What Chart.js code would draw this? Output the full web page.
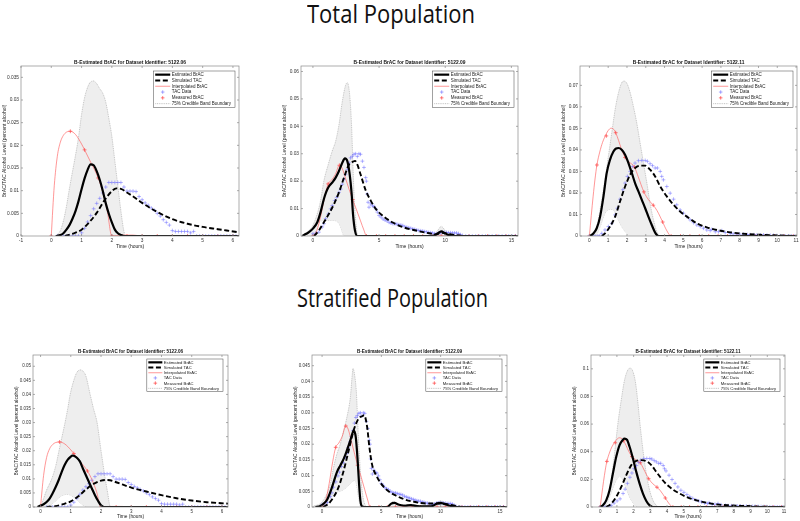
<!DOCTYPE html>
<html><head><meta charset="utf-8">
<script src="https://cdn.jsdelivr.net/npm/chart.js@4.4.1/dist/chart.umd.min.js"></script>
<style>
html,body{margin:0;padding:0;background:#fff;}
body{width:800px;height:521px;position:relative;overflow:hidden;}
.hd{position:absolute;white-space:nowrap;font-family:"Open Sans",sans-serif;font-size:26px;line-height:1;color:#111;transform-origin:0 0;}
canvas{position:absolute;}
</style></head><body>
<div class="hd" id="hd1">Total Population</div>
<div class="hd" id="hd2">Stratified Population</div>
<canvas id="c1"></canvas><canvas id="c2"></canvas><canvas id="c3"></canvas>
<canvas id="c4"></canvas><canvas id="c5"></canvas><canvas id="c6"></canvas>
<script>
// ---------- tick labels ----------
const xTicks06a = [-1,0,1,2,3,4,5,6];
const xTicks06b = [0,1,2,3,4,5,6];
const xTicks09 = [0,5,10,15];
const xTicks11 = [0,1,2,3,4,5,6,7,8,9,10,11];
const yTicks1 = [0,0.005,0.01,0.015,0.02,0.025,0.03,0.035];
const yTicks2 = [0,0.01,0.02,0.03,0.04,0.05,0.06];
const yTicks3 = [0,0.01,0.02,0.03,0.04,0.05,0.06,0.07];
const yTicks4 = [0,0.005,0.01,0.015,0.02,0.025,0.03,0.035,0.04,0.045,0.05];
const yTicks5 = [0,0.005,0.01,0.015,0.02,0.025,0.03,0.035,0.04,0.045];
const yTicks6 = [0,0.02,0.04,0.06,0.08,0.1];
const legendLabels = ['Estimated BrAC','Simulated TAC','Interpolated BrAC','TAC Data','Measured BrAC','75% Credible Band Boundary'];

// ---------- dataset 5122.06 (shared data) ----------
const tac06 = [[0.2,0],[0.3,0],[0.4,0],[0.5,0],[0.6,0],[0.7,0],[0.8,0],[0.9,0],[1.0,0.0007],[1.1,0.0017],[1.2,0.0031],[1.3,0.0045],[1.4,0.006],[1.5,0.0072],[1.6,0.0083],[1.7,0.0095],[1.8,0.0108],[1.9,0.0118],[2.0,0.0118],[2.1,0.0118],[2.2,0.0118],[2.3,0.0118],[2.4,0.0108],[2.5,0.0099],[2.6,0.0099],[2.7,0.0099],[2.8,0.0098],[2.9,0.0087],[3.0,0.008],[3.1,0.0073],[3.2,0.0068],[3.3,0.0062],[3.4,0.0057],[3.5,0.005],[3.6,0.0044],[3.7,0.0036],[3.8,0.003],[3.9,0.0024],[4.0,0.0012],[4.1,0.001],[4.2,0.001],[4.3,0.001],[4.4,0.001],[4.5,0.001],[4.6,0.0007],[4.7,0.001],[4.8,0],[4.9,0],[5.0,0],[5.1,0],[5.2,0],[5.3,0],[5.4,0],[5.5,0],[5.6,0],[5.7,0],[5.8,0],[5.9,0],[6.0,0],[6.1,0]];
const meas06 = [[0,0],[0.63,0.0231],[1.1,0.019],[1.55,0.0128],[2.0,0],[2.5,0],[3.0,0],[3.5,0],[4.0,0],[4.5,0],[5.0,0],[5.5,0],[6.0,0]];
const interp06 = [[0,0],[0.05,0.006],[0.1,0.0112],[0.2,0.0176],[0.3,0.0207],[0.4,0.0222],[0.5,0.0229],[0.63,0.0231],[0.8,0.0224],[1.0,0.0203],[1.1,0.019],[1.3,0.0163],[1.55,0.0128],[1.7,0.0097],[1.85,0.0055],[2.0,0],[2.3,0.0002],[2.7,0.0002],[3.0,0],[6.2,0]];
// total population
const est06a = [[0.15,0],[0.3,0.0002],[0.4,0.0006],[0.5,0.0014],[0.6,0.0024],[0.7,0.0038],[0.8,0.0055],[0.9,0.0077],[1.0,0.0103],[1.1,0.0127],[1.2,0.0146],[1.3,0.0158],[1.4,0.0156],[1.5,0.0143],[1.6,0.0124],[1.7,0.01],[1.8,0.0072],[1.9,0.0049],[2.0,0.003],[2.1,0.0014],[2.2,0.0006],[2.3,0.0002],[2.4,0],[6.2,0]];
const sim06a = [[0.45,0],[0.75,0.0006],[1.0,0.0014],[1.25,0.003],[1.5,0.0051],[1.75,0.0078],[2.0,0.0099],[2.15,0.0105],[2.3,0.0104],[2.5,0.0096],[2.75,0.0085],[3.0,0.0073],[3.5,0.0053],[4.0,0.0037],[4.5,0.0027],[5.0,0.002],[5.5,0.0015],[6.2,0.0008]];
const upper06a = [[0.15,0],[0.3,0.0012],[0.4,0.0033],[0.5,0.0065],[0.6,0.0105],[0.7,0.0142],[0.8,0.0178],[0.9,0.0218],[1.0,0.0268],[1.1,0.0305],[1.2,0.0328],[1.3,0.034],[1.4,0.0342],[1.5,0.0336],[1.6,0.0325],[1.7,0.0315],[1.8,0.0295],[1.9,0.026],[2.0,0.022],[2.1,0.0165],[2.2,0.011],[2.3,0.0055],[2.4,0.001],[2.45,0],[6.2,0]];
const lower06a = [[0.15,0],[2.45,0],[6.2,0]];
// stratified population
const est06b = [[-0.1,0],[0,0.0005],[0.1,0.001],[0.2,0.0018],[0.3,0.003],[0.4,0.0049],[0.5,0.0071],[0.6,0.0096],[0.7,0.0125],[0.8,0.015],[0.9,0.0168],[1.0,0.0179],[1.05,0.0183],[1.1,0.0182],[1.2,0.0175],[1.3,0.0162],[1.4,0.0137],[1.5,0.0113],[1.6,0.0089],[1.7,0.0065],[1.8,0.0042],[1.9,0.0022],[2.0,0.0006],[2.1,0],[6.2,0]];
const sim06b = [[0.2,0],[0.5,0.0003],[0.75,0.001],[1.0,0.002],[1.25,0.0038],[1.5,0.0062],[1.75,0.0082],[2.0,0.0094],[2.15,0.0096],[2.3,0.0095],[2.5,0.0088],[3.0,0.0069],[3.5,0.0055],[4.0,0.0042],[4.5,0.0031],[5.0,0.0023],[5.5,0.0017],[6.2,0.0012]];
const upper06b = [[0,0],[0.1,0.003],[0.2,0.006],[0.37,0.01],[0.5,0.0145],[0.61,0.02],[0.7,0.0245],[0.81,0.03],[0.9,0.035],[0.98,0.04],[1.1,0.045],[1.2,0.0478],[1.31,0.0487],[1.4,0.0483],[1.5,0.0465],[1.64,0.04],[1.75,0.035],[1.87,0.03],[2.0,0.02],[2.14,0.01],[2.22,0.005],[2.31,0],[6.2,0]];
const lower06b = [[0,0],[0.2,0],[0.3,0.0005],[0.4,0.0013],[0.5,0.0022],[0.6,0.0032],[0.7,0.004],[0.8,0.0044],[0.87,0.0045],[0.95,0.0044],[1.1,0.0035],[1.2,0.0026],[1.3,0.0016],[1.4,0.0007],[1.5,0.0002],[1.6,0],[6.2,0]];

// ---------- dataset 5122.09 (shared data) ----------
const tac09 = [[0,0.0008],[0.2,0.001],[0.45,0.0014],[0.7,0.0033],[0.83,0.0045],[0.96,0.0063],[1.16,0.008],[1.34,0.0099],[1.46,0.0111],[1.64,0.0129],[1.8,0.0141],[1.97,0.0159],[2.1,0.0171],[2.22,0.0189],[2.35,0.0207],[2.47,0.0225],[2.6,0.0243],[2.73,0.0267],[2.85,0.0285],[2.98,0.0291],[3.1,0.0298],[3.23,0.03],[3.36,0.029],[3.48,0.03],[3.6,0.0298],[3.74,0.0273],[3.86,0.025],[3.99,0.0213],[4.04,0.02],[4.1,0.0153],[4.17,0.0123],[4.24,0.0105],[4.37,0.0117],[4.5,0.011],[4.62,0.0108],[4.75,0.0099],[4.87,0.0087],[5.0,0.0075],[5.15,0.0069],[5.3,0.0062],[5.45,0.0058],[5.6,0.0055],[5.75,0.005],[5.9,0.0047],[6.05,0.0045],[6.2,0.0045],[6.35,0.0043],[6.5,0.0041],[6.65,0.004],[6.8,0.0038],[6.95,0.0034],[7.1,0.0032],[7.25,0.003],[7.4,0.0028],[7.55,0.0026],[7.7,0.0024],[7.85,0.0022],[8.0,0.002],[8.15,0.0019],[8.3,0.0018],[8.45,0.0016],[8.6,0.0015],[8.75,0.0013],[8.9,0.0012],[9.05,0.0011],[9.2,0.0009],[9.35,0.0008],[9.5,0.001],[9.65,0.0012],[9.8,0.0013],[9.95,0.0013],[10.1,0.0013],[10.25,0.0012],[10.4,0.0012],[10.55,0.0011],[10.7,0.0011],[10.85,0.0011],[11.0,0.0009],[11.15,0.0005],[11.3,0.0002],[11.55,0],[11.8,0],[12.05,0],[12.3,0],[12.55,0],[12.8,0],[13.05,0],[13.3,0],[13.55,0],[13.8,0],[14.05,0],[14.3,0],[14.55,0],[14.8,0],[15.05,0],[15.3,0]];
const meas09 = [[0,0],[1.15,0.019],[2.0,0.0258],[3.0,0.0133],[4.05,0],[4.8,0],[5.5,0],[6.2,0],[6.9,0],[7.6,0],[8.3,0],[9.0,0],[9.7,0],[10.4,0],[11.1,0],[11.8,0],[12.5,0],[13.2,0],[13.9,0],[14.6,0],[15.3,0]];
const interp09 = [[0,0],[0.3,0.002],[0.6,0.0075],[0.9,0.0145],[1.15,0.019],[1.4,0.0203],[1.7,0.0225],[2.0,0.0258],[2.2,0.0248],[2.5,0.0205],[2.75,0.0168],[3.0,0.0133],[3.3,0.0095],[3.6,0.0055],[3.85,0.0022],[4.05,0],[15.6,0]];
// total population
const est09a = [[-0.8,0],[-0.5,0.0008],[-0.3,0.0014],[0,0.0027],[0.33,0.005],[0.58,0.0087],[0.83,0.0135],[1.0,0.016],[1.16,0.0177],[1.46,0.0195],[1.72,0.0213],[1.97,0.0237],[2.22,0.0267],[2.42,0.0283],[2.6,0.0273],[2.78,0.0225],[2.93,0.0153],[3.03,0.008],[3.18,0.002],[3.36,0],[9.0,0],[9.4,0.0008],[9.7,0.0017],[10.0,0.0009],[10.4,0.0001],[10.6,0],[15.5,0]];
const sim09a = [[0.1,0],[0.45,0.002],[0.83,0.005],[1.2,0.008],[1.6,0.0117],[1.97,0.0159],[2.35,0.0213],[2.73,0.0261],[3.03,0.0271],[3.18,0.0274],[3.36,0.026],[3.6,0.0225],[4.0,0.0165],[4.37,0.0129],[4.75,0.0099],[5.25,0.0075],[6.0,0.005],[6.77,0.0033],[7.78,0.002],[8.8,0.001],[9.3,0.0006],[9.7,0.0012],[10.0,0.001],[10.8,0.0003],[11.5,0],[15.5,0]];
const upper09a = [[-0.8,0.0002],[-0.3,0.002],[0,0.0039],[0.33,0.0081],[0.58,0.0129],[0.83,0.0201],[1.16,0.0261],[1.46,0.031],[1.72,0.0346],[1.97,0.0406],[2.22,0.049],[2.47,0.055],[2.6,0.0559],[2.78,0.0514],[2.93,0.0394],[3.03,0.025],[3.13,0.0129],[3.28,0.0033],[3.38,0],[9.0,0],[9.4,0.0018],[9.7,0.0035],[10.0,0.002],[10.5,0],[15.5,0]];
const lower09a = [[-0.8,0],[0.1,0],[0.45,0.005],[0.96,0.0057],[1.46,0.0057],[1.84,0.0053],[2.1,0.0033],[2.27,0.0008],[2.37,0],[15.5,0]];
// stratified population
const est09b = [[-0.56,0],[-0.14,0.0003],[0.14,0.0011],[0.42,0.0023],[0.7,0.0048],[0.98,0.008],[1.26,0.0112],[1.55,0.0133],[1.83,0.0154],[2.1,0.0181],[2.39,0.0213],[2.6,0.0239],[2.67,0.0243],[2.84,0.0223],[3.0,0.0149],[3.12,0.0074],[3.23,0.0021],[3.37,0.0002],[3.6,0],[5.5,0],[5.8,0.001],[6.1,0.0013],[6.5,0.0007],[7.0,0.0004],[7.5,0.0006],[8.0,0.0003],[9.2,0.0002],[9.7,0.0011],[10.0,0.0013],[10.3,0.001],[10.8,0.0004],[11.4,0],[15.6,0]];
const sim09b = [[0.1,0],[0.56,0.0011],[0.98,0.0032],[1.4,0.0064],[1.83,0.0117],[2.25,0.0181],[2.67,0.0245],[3.09,0.0282],[3.37,0.0289],[3.55,0.0292],[3.8,0.0255],[3.99,0.0191],[4.2,0.0138],[4.63,0.0096],[5.2,0.0064],[5.76,0.0046],[6.3,0.0035],[6.9,0.0025],[7.7,0.0017],[8.85,0.0011],[9.97,0.0011],[11.1,0.0005],[11.9,0],[15.6,0]];
const upper09b = [[-0.7,0.0003],[-0.14,0.0011],[0.28,0.0032],[0.7,0.0074],[0.98,0.0128],[1.26,0.017],[1.55,0.0202],[1.83,0.0245],[2.1,0.0287],[2.39,0.0351],[2.53,0.0415],[2.61,0.0441],[2.72,0.0426],[2.9,0.0362],[3.0,0.0277],[3.12,0.0181],[3.29,0.0085],[3.45,0.0032],[3.65,0.0005],[3.8,0],[5.5,0],[6.0,0.0018],[6.5,0.0008],[7.5,0.0008],[8.5,0.0003],[9.3,0.0005],[10.0,0.002],[10.6,0.0008],[11.4,0],[15.6,0]];
const lower09b = [[-0.7,0],[0.14,0],[0.56,0.0021],[0.98,0.0043],[1.26,0.0048],[1.69,0.0053],[2.1,0.0064],[2.53,0.008],[2.72,0.0085],[2.9,0.0074],[3.03,0.0043],[3.17,0.0011],[3.29,0],[15.6,0]];

// ---------- dataset 5122.11 (shared data) ----------
const tac11 = [[0,0],[0.15,0],[0.3,0],[0.45,0],[0.55,0],[0.66,0.0012],[0.83,0.0028],[1.01,0.0044],[1.19,0.0059],[1.37,0.0098],[1.49,0.0129],[1.63,0.0171],[1.78,0.0215],[1.9,0.0246],[2.02,0.0277],[2.17,0.03],[2.31,0.0323],[2.43,0.0339],[2.61,0.035],[2.79,0.0351],[2.97,0.0351],[3.09,0.0347],[3.23,0.0336],[3.36,0.0327],[3.5,0.0316],[3.62,0.0316],[3.77,0.03],[3.85,0.0277],[3.94,0.0261],[4.12,0.023],[4.3,0.0199],[4.48,0.0171],[4.65,0.0145],[4.83,0.0121],[5.01,0.0106],[5.19,0.009],[5.36,0.0075],[5.54,0.0062],[5.72,0.0051],[5.9,0.0044],[6.07,0.0036],[6.25,0.0028],[6.43,0.0025],[6.52,0.0031],[6.7,0.002],[6.87,0.002],[7.05,0.0025],[7.23,0.0016],[7.5,0.0012],[7.65,0.001],[7.85,0.0009],[8.0,0.0009],[8.2,0.0008],[8.4,0.0007],[8.56,0.0006],[8.75,0.0006],[8.92,0.0005],[9.1,0.0005],[9.27,0.0005],[9.45,0.0004],[9.63,0.0003],[9.8,0.0003],[9.98,0.0002],[10.15,0.0001],[10.3,0],[10.45,0],[10.6,0],[10.75,0],[10.9,0]];
const meas11 = [[0,0],[0.4,0.033],[0.9,0.0465],[1.4,0.048],[1.9,0.0365],[2.4,0.032],[2.9,0.0205],[3.4,0.0143],[3.9,0.0065],[4.35,0],[4.85,0],[5.35,0],[5.85,0],[6.35,0],[6.85,0],[7.35,0],[7.85,0],[8.35,0],[8.85,0],[9.35,0],[9.85,0],[10.35,0],[10.85,0]];
const interp11 = [[0,0],[0.1,0.0095],[0.2,0.0185],[0.3,0.0265],[0.4,0.033],[0.55,0.039],[0.7,0.0435],[0.9,0.0475],[1.0,0.049],[1.15,0.0501],[1.3,0.0495],[1.4,0.048],[1.55,0.0445],[1.7,0.0405],[1.9,0.0365],[2.1,0.0345],[2.4,0.032],[2.6,0.0275],[2.9,0.0205],[3.15,0.0168],[3.4,0.0143],[3.6,0.0118],[3.9,0.0065],[4.1,0.0028],[4.35,0],[11.1,0]];
// total population
const est11a = [[0.04,0],[0.21,0.0012],[0.39,0.0036],[0.57,0.009],[0.75,0.0184],[0.92,0.0292],[1.1,0.0355],[1.28,0.0393],[1.42,0.0407],[1.55,0.0409],[1.72,0.0401],[1.9,0.0378],[2.08,0.0339],[2.26,0.0292],[2.43,0.0246],[2.61,0.0207],[2.79,0.0168],[2.97,0.0129],[3.14,0.009],[3.32,0.0051],[3.5,0.0016],[3.68,0],[11.1,0]];
const sim11a = [[0.66,0],[0.83,0.0012],[1.1,0.0044],[1.37,0.009],[1.63,0.016],[1.9,0.023],[2.17,0.0285],[2.43,0.0316],[2.7,0.0327],[2.97,0.0327],[3.23,0.0308],[3.5,0.0277],[3.77,0.023],[4.12,0.0184],[4.48,0.0145],[4.83,0.0114],[5.19,0.009],[5.72,0.0059],[6.25,0.004],[6.79,0.0028],[7.5,0.0017],[8.38,0.0009],[9.27,0.0005],[10.16,0.0002],[11.1,0]];
const upper11a = [[0.12,0],[0.39,0.0044],[0.66,0.0168],[0.83,0.0261],[1.01,0.037],[1.19,0.0479],[1.37,0.0588],[1.55,0.0666],[1.72,0.0712],[1.86,0.072],[2.02,0.0705],[2.17,0.0666],[2.34,0.0603],[2.52,0.0526],[2.7,0.0432],[2.88,0.0339],[3.06,0.0246],[3.23,0.0152],[3.41,0.0075],[3.59,0.002],[3.77,0],[11.1,0]];
const lower11a = [[0.12,0],[0.3,0],[0.57,0.0044],[0.83,0.0106],[1.1,0.0124],[1.28,0.0121],[1.46,0.009],[1.72,0.0044],[1.99,0.0012],[2.17,0],[11.1,0]];
// stratified population
const est11b = [[0,0],[0.16,0.0012],[0.36,0.0048],[0.56,0.0121],[0.76,0.0242],[0.96,0.0363],[1.16,0.0448],[1.36,0.0487],[1.46,0.0495],[1.6,0.0487],[1.76,0.0436],[1.96,0.0351],[2.16,0.0254],[2.36,0.0169],[2.56,0.0097],[2.76,0.0044],[2.96,0.0012],[3.16,0],[11.1,0]];
const sim11b = [[0.36,0],[0.66,0.0024],[0.96,0.0073],[1.26,0.0145],[1.56,0.023],[1.86,0.0303],[2.16,0.0334],[2.46,0.0339],[2.76,0.0332],[3.06,0.0303],[3.36,0.0254],[3.66,0.0206],[3.96,0.0165],[4.36,0.0126],[4.76,0.0097],[5.16,0.0073],[5.76,0.0048],[6.36,0.0031],[6.96,0.0019],[7.76,0.0012],[8.76,0.0007],[9.76,0.0002],[10.96,0],[11.1,0]];
const upper11b = [[0.2,0],[0.46,0.0073],[0.66,0.0194],[0.86,0.0387],[1.06,0.0605],[1.26,0.0775],[1.46,0.092],[1.66,0.0993],[1.8,0.1005],[1.96,0.098],[2.12,0.0896],[2.26,0.0751],[2.4,0.0581],[2.56,0.0412],[2.76,0.0242],[2.96,0.0121],[3.16,0.0048],[3.36,0.0012],[3.56,0],[11.1,0]];
const lower11b = [[0.2,0],[0.26,0],[0.56,0.0073],[0.86,0.0169],[1.06,0.0213],[1.16,0.0223],[1.36,0.0194],[1.56,0.0133],[1.76,0.0073],[2.0,0.0024],[2.26,0],[11.1,0]];

// ---------- panels ----------
const FF = '"Liberation Sans", Arial, sans-serif';
const topLg = {fs:4.5, rh:5.8, sl:15, mr:4, mt:5};
const botLg = {fs:4.2, rh:5.2, sl:14, mr:5, mt:4};
const panels = [
 {id:'c1', box:[21,66,239,236], xmin:-1, xmax:6.2, ymax:0.0375, xt:xTicks06a, yt:yTicks1, title:'B-Estimated BrAC for Dataset Identifier: 5122.06', est:est06a, sim:sim06a, up:upper06a, lo:lower06a, interp:interp06, tac:tac06, meas:meas06, fs:4.8, tfs:4.9, afs:5, xh:14, lg:topLg},
 {id:'c2', box:[301,66,518,236], xmin:-0.9, xmax:15.5, ymax:0.062, xt:xTicks09, yt:yTicks2, title:'B-Estimated BrAC for Dataset Identifier: 5122.09', est:est09a, sim:sim09a, up:upper09a, lo:lower09a, interp:interp09, tac:tac09, meas:meas09, fs:4.8, tfs:4.9, afs:5, xh:14, lg:topLg},
 {id:'c3', box:[580,66,797,236], xmin:-0.5, xmax:11.05, ymax:0.079, xt:xTicks11, yt:yTicks3, title:'B-Estimated BrAC for Dataset Identifier: 5122.11', est:est11a, sim:sim11a, up:upper11a, lo:lower11a, interp:interp11, tac:tac11, meas:meas11, fs:4.8, tfs:4.9, afs:5, xh:14, lg:topLg},
 {id:'c4', box:[33,355,228,507], xmin:-0.25, xmax:6.2, ymax:0.054, xt:xTicks06b, yt:yTicks4, title:'B-Estimated BrAC for Dataset Identifier: 5122.06', est:est06b, sim:sim06b, up:upper06b, lo:lower06b, interp:interp06, tac:tac06, meas:meas06, fs:4.5, tfs:4.6, afs:4.8, xh:13, lg:botLg},
 {id:'c5', box:[312,355,507,507], xmin:-0.85, xmax:15.6, ymax:0.0484, xt:xTicks09, yt:yTicks5, title:'B-Estimated BrAC for Dataset Identifier: 5122.09', est:est09b, sim:sim09b, up:upper09b, lo:lower09b, interp:interp09, tac:tac09, meas:meas09, fs:4.5, tfs:4.6, afs:4.8, xh:13, lg:botLg},
 {id:'c6', box:[591,355,785,507], xmin:-0.55, xmax:11.06, ymax:0.11, xt:xTicks11, yt:yTicks6, title:'B-Estimated BrAC for Dataset Identifier: 5122.11', est:est11b, sim:sim11b, up:upper11b, lo:lower11b, interp:interp11, tac:tac11, meas:meas11, fs:4.5, tfs:4.6, afs:4.8, xh:13, lg:botLg}
];

const fmt = v => String(Math.round(v*10000)/10000);
const pts = a => a.map(([x,y]) => ({x, y}));
const lineDs = (data, o) => Object.assign({data: pts(data), pointRadius:0, pointHoverRadius:0, cubicInterpolationMode:'monotone', fill:false}, o);

function cross(ctx, x, y, r, color, lw){
  ctx.strokeStyle = color; ctx.lineWidth = lw;
  ctx.beginPath(); ctx.moveTo(x-r,y); ctx.lineTo(x+r,y); ctx.moveTo(x,y-r); ctx.lineTo(x,y+r); ctx.stroke();
}

function decor(p){
  return {
    id:'decor'+p.id,
    afterDraw(chart){
      const ctx = chart.ctx, a = chart.chartArea;
      const xs = chart.scales.x, ys = chart.scales.y;
      ctx.save();
      ctx.strokeStyle = '#8a8a8a'; ctx.lineWidth = 0.7; ctx.setLineDash([]);
      ctx.strokeRect(a.left, a.top, a.right-a.left, a.bottom-a.top);
      ctx.beginPath();
      p.xt.forEach(v => { const X = xs.getPixelForValue(v); ctx.moveTo(X,a.bottom); ctx.lineTo(X,a.bottom-2); ctx.moveTo(X,a.top); ctx.lineTo(X,a.top+2); });
      p.yt.forEach(v => { const Y = ys.getPixelForValue(v); ctx.moveTo(a.left,Y); ctx.lineTo(a.left+2,Y); ctx.moveTo(a.right,Y); ctx.lineTo(a.right-2,Y); });
      ctx.stroke();
      ctx.fillStyle = '#111'; ctx.font = 'bold '+p.tfs+'px '+FF; ctx.textAlign='center'; ctx.textBaseline='alphabetic';
      ctx.fillText(p.title, (a.left+a.right)/2, a.top-2.2);
      const L = p.lg;
      ctx.font = L.fs+'px '+FF;
      const tw = Math.max(...legendLabels.map(s => ctx.measureText(s).width));
      const w = 1.5 + L.sl + 1.5 + tw + 4, h = legendLabels.length*L.rh + 1.5;
      const x0 = a.right - L.mr - w, y0 = a.top + L.mt;
      ctx.fillStyle = '#fff'; ctx.fillRect(x0,y0,w,h);
      ctx.strokeStyle = '#444'; ctx.lineWidth = 0.5; ctx.strokeRect(x0,y0,w,h);
      legendLabels.forEach((s,i) => {
        const cy = y0 + 0.75 + L.rh*(i+0.5), sx0 = x0+1.5, sx1 = sx0+L.sl, cx = (sx0+sx1)/2;
        ctx.setLineDash([]);
        if (i===0){ ctx.strokeStyle='#000'; ctx.lineWidth=2.2; ctx.beginPath(); ctx.moveTo(sx0,cy); ctx.lineTo(sx1,cy); ctx.stroke(); }
        if (i===1){ ctx.strokeStyle='#000'; ctx.lineWidth=1.9; ctx.setLineDash([5,2.6]); ctx.beginPath(); ctx.moveTo(sx0,cy); ctx.lineTo(sx1,cy); ctx.stroke(); ctx.setLineDash([]); }
        if (i===2){ ctx.strokeStyle='rgba(255,90,90,0.9)'; ctx.lineWidth=0.7; ctx.beginPath(); ctx.moveTo(sx0,cy); ctx.lineTo(sx1,cy); ctx.stroke(); }
        if (i===3){ cross(ctx,cx,cy,1.8,'rgba(100,100,255,0.7)',0.8); }
        if (i===4){ cross(ctx,cx,cy,1.8,'rgba(255,60,60,0.85)',0.8); }
        if (i===5){ ctx.strokeStyle='#999'; ctx.lineWidth=0.6; ctx.setLineDash([1,0.8]); ctx.beginPath(); ctx.moveTo(sx0,cy); ctx.lineTo(sx1,cy); ctx.stroke(); ctx.setLineDash([]); }
        ctx.fillStyle='#222'; ctx.textAlign='left'; ctx.textBaseline='middle';
        ctx.fillText(s, sx1+1.5, cy+0.2);
      });
      ctx.restore();
    }
  };
}

function make(p){
  const cv = document.getElementById(p.id);
  const [L,T,R,B] = p.box;
  const YW = 19, PT = 12, PR = 6, XH = p.xh;
  const W = R-L+YW+PR, H = B-T+PT+XH;
  cv.width = W; cv.height = H; cv.style.width = W+'px'; cv.style.height = H+'px';
  cv.style.left = (L-YW)+'px'; cv.style.top = (T-PT)+'px';
  const mr = 1.9;
  new Chart(cv, {
    type:'line',
    data:{datasets:[
      lineDs(p.est, {label:legendLabels[0], borderColor:'#000', borderWidth:2.2}),
      lineDs(p.sim, {label:legendLabels[1], borderColor:'#000', borderWidth:1.9, borderDash:[5,2.6]}),
      lineDs(p.interp, {label:legendLabels[2], borderColor:'rgba(255,90,90,0.9)', borderWidth:0.7}),
      {label:legendLabels[3], data:pts(p.tac), showLine:false, pointStyle:'cross', pointRadius:mr, pointHoverRadius:mr, pointBorderColor:'rgba(100,100,255,0.6)', pointBackgroundColor:'rgba(0,0,0,0)', pointBorderWidth:0.8},
      {label:legendLabels[4], data:pts(p.meas), showLine:false, pointStyle:'cross', pointRadius:mr, pointHoverRadius:mr, pointBorderColor:'rgba(255,60,60,0.85)', pointBackgroundColor:'rgba(0,0,0,0)', pointBorderWidth:0.8},
      lineDs(p.up, {label:legendLabels[5], borderColor:'#a3a3a3', borderWidth:0.6, borderDash:[1,0.8], fill:'+1', backgroundColor:'#eeeeee'}),
      lineDs(p.lo, {label:'lower bound', borderColor:'#a3a3a3', borderWidth:0.6, borderDash:[1,0.8]})
    ]},
    options:{
      responsive:false, animation:false, devicePixelRatio:1, events:[],
      layout:{padding:{left:0, top:PT, right:PR, bottom:0}},
      plugins:{legend:{display:false}, tooltip:{enabled:false}, title:{display:false}},
      scales:{
        x:{type:'linear', min:p.xmin, max:p.xmax, grid:{display:false, drawTicks:false, tickLength:0}, border:{display:false},
           afterBuildTicks: s => { s.ticks = p.xt.map(v => ({value:v})); },
           afterFit: s => { s.height = XH; },
           ticks:{autoSkip:false, maxRotation:0, minRotation:0, padding:2.2, font:{family:FF, size:p.fs}, color:'#333', callback: v => fmt(v)},
           title:{display:true, text:'Time (hours)', padding:0, font:{family:FF, size:p.afs}, color:'#222'}},
        y:{type:'linear', min:0, max:p.ymax, grid:{display:false, drawTicks:false, tickLength:0}, border:{display:false},
           afterBuildTicks: s => { s.ticks = p.yt.map(v => ({value:v})); },
           afterFit: s => { s.width = YW; },
           ticks:{autoSkip:false, padding:2, font:{family:FF, size:p.fs}, color:'#333', callback: v => fmt(v)},
           title:{display:true, text:'BrAC/TAC Alcohol Level (percent alcohol)', padding:0, font:{family:FF, size:p.afs}, color:'#222'}}
      }
    },
    plugins:[decor(p)]
  });
}
panels.forEach(make);

function fitHead(id, cx, width, top){
  const el = document.getElementById(id);
  const w = el.getBoundingClientRect().width;
  el.style.left = (cx - width/2) + 'px';
  el.style.top = top + 'px';
  el.style.transform = 'scaleX(' + (width/w) + ')';
}
fitHead('hd1', 391, 168, 0);
fitHead('hd2', 392, 191, 284);
</script>
</body></html>
